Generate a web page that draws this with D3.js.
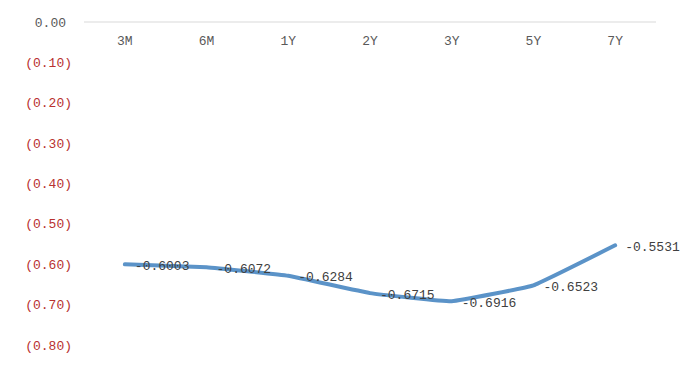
<!DOCTYPE html>
<html><head><meta charset="utf-8">
<script src="https://cdn.jsdelivr.net/npm/d3@7"></script>
<style>body{margin:0;background:#fff}svg{display:block}</style>
</head><body>
<svg id="c" width="696" height="369"></svg>
<script>
const categories = ["3M","6M","1Y","2Y","3Y","5Y","7Y"];
const values = [-0.6003,-0.6072,-0.6284,-0.6715,-0.6916,-0.6523,-0.5531];
const yTicks = [0,-0.1,-0.2,-0.3,-0.4,-0.5,-0.6,-0.7,-0.8];

const svg = d3.select("#c");
const font = "'Liberation Mono', monospace";
const x = d3.scaleBand().domain(categories).range([84,656]);
const y = d3.scaleLinear().domain([0,-0.8]).range([22,345]);

svg.append("line").attr("x1",84).attr("x2",656).attr("y1",y(0)).attr("y2",y(0))
  .attr("stroke","#d9d9d9").attr("stroke-width",1);

svg.append("g").selectAll("text").data(yTicks).join("text")
  .attr("x", d => d===0 ? 66 : 72)
  .attr("y", d => y(d))
  .attr("dy","0.35em")
  .attr("text-anchor","end")
  .attr("font-family",font).attr("font-size",13)
  .attr("fill", d => d<0 ? "#b8312f" : "#595959")
  .text(d => d===0 ? "0.00" : "(" + Math.abs(d).toFixed(2) + ")");

svg.append("g").selectAll("text").data(categories).join("text")
  .attr("x", d => x(d)+x.bandwidth()/2)
  .attr("y", 40).attr("dy","0.35em")
  .attr("text-anchor","middle")
  .attr("font-family",font).attr("font-size",13)
  .attr("fill","#595959")
  .text(d=>d);

const pts = categories.map((c,i)=>({c, v: values[i]}));
const line = d3.line().x(d=>x(d.c)+x.bandwidth()/2).y(d=>y(d.v)).curve(d3.curveCardinal.tension(0.75));
svg.append("path").datum(pts).attr("d",line)
  .attr("fill","none").attr("stroke","#5b93c8").attr("stroke-width",4)
  .attr("stroke-linecap","round").attr("stroke-linejoin","round");

svg.append("g").selectAll("text").data(pts).join("text")
  .attr("x", d => x(d.c)+x.bandwidth()/2 + 10)
  .attr("y", d => y(d.v)+1).attr("dy","0.35em")
  .attr("font-family",font).attr("font-size",13)
  .attr("fill","#404040")
  .text(d => d.v.toFixed(4));
</script>
</body></html>
